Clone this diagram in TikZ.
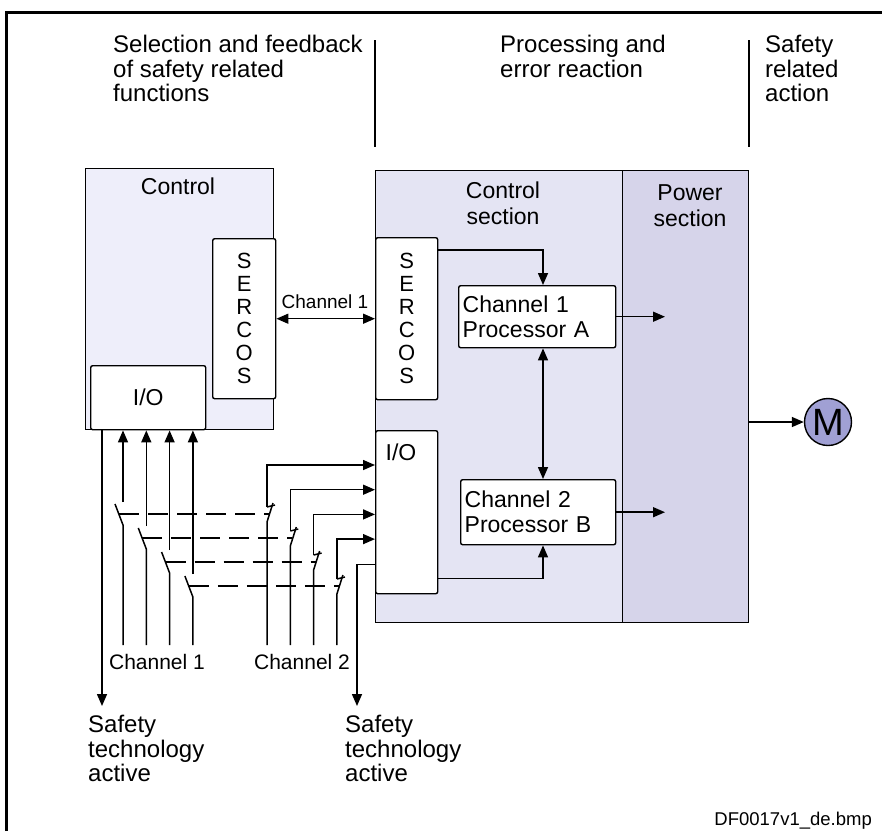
\documentclass[tikz,border=0pt]{standalone}
\usepackage{fontspec}
\setmainfont{Liberation Sans}
\usetikzlibrary{arrows.meta,positioning,calc}
\definecolor{ctrlfill}{RGB}{238,238,250}
\definecolor{csecfill}{RGB}{228,228,243}
\definecolor{psecfill}{RGB}{214,212,234}
\definecolor{motorfill}{RGB}{160,160,212}

\begin{document}
\begin{tikzpicture}[x=1pt, y=-1pt,
    box/.style = {rectangle, draw, line width=1.4pt, inner sep=0pt, anchor=north west},
    wbox/.style = {box, fill=white, rounded corners=2pt},
    arr/.style = {line width=1.5pt, -{Triangle[length=12pt,width=10pt]}},
    dbl/.style = {line width=1.5pt, {Triangle[length=12pt,width=10pt]}-{Triangle[length=12pt,width=10pt]}},
    wire/.style = {line width=1.5pt},
    link/.style = {line width=1.5pt, dash pattern=on 20pt off 9pt},
    hdr/.style = {font=\fontsize{24}{24.5}\selectfont, align=left, anchor=north west, inner sep=0pt},
    lbl/.style = {font=\fontsize{23}{26}\selectfont, inner sep=0pt, align=center},
    small/.style = {font=\fontsize{19}{20}\selectfont, inner sep=0pt}
  ]
  \useasboundingbox (0,0) rectangle (882,831);
  \draw[line width=3pt] (6,831) -- (6,12) -- (882,12);

  % headings
  \node (hsel) [hdr] at (113,35) {Selection and feedback\\of safety related\\functions};
  \node (hproc) [hdr] at (500,35) {Processing and\\error reaction};
  \node (hact) [hdr] at (765,35) {Safety\\related\\action};
  \draw[wire] (375,40) -- (375,147);
  \draw[wire] (749,40) -- (749,147);

  % drive
  \node (csec) [box, fill=csecfill, minimum width=247pt, minimum height=452pt] at (375,170) {};
  \node (psec) [box, fill=psecfill, minimum width=126pt, minimum height=452pt] at (622,170) {};
  \node (csecT) [lbl] at (503,203) {Control\\section};
  \node (psecT) [lbl] at (690,206) {Power\\section};
  \node (serR) [wbox, minimum width=62pt, minimum height=162pt, align=center,
        font=\fontsize{22}{23}\selectfont] at (375,237) {S\\E\\R\\C\\O\\S};
  \node (ioR) [wbox, minimum width=62pt, minimum height=163pt] at (375,430) {};
  \node (ioRT) [lbl] at (401,452) {I/O};
  \node (procA) [wbox, minimum width=157pt, minimum height=62pt, text width=149pt, inner sep=4pt,
        align=left, font=\fontsize{23}{25}\selectfont] at (458,285) {Channel 1\\Processor A};
  \node (procB) [wbox, minimum width=155pt, minimum height=65pt, text width=147pt, inner sep=4pt,
        align=left, font=\fontsize{23}{25}\selectfont] at (460,479) {Channel 2\\Processor B};
  \node (motor) [circle, draw, line width=1.4pt, fill=motorfill, minimum size=47pt, inner sep=0pt,
        font=\fontsize{38}{38}\selectfont] at (828,422) {M};

  % control
  \node (ctrl) [box, fill=ctrlfill, minimum width=188pt, minimum height=261pt] at (85,168) {};
  \node (ctrlT) [lbl] at (178,186) {Control};
  \node (serL) [wbox, minimum width=63pt, minimum height=160pt, align=center,
        font=\fontsize{22}{23}\selectfont] at (212,238) {S\\E\\R\\C\\O\\S};
  \node (ioL) [wbox, minimum width=115pt, minimum height=64pt, font=\fontsize{23}{25}\selectfont] at (90,365) {I/O};

  % connections
  \coordinate (busx) at (543,0);
  \coordinate (tipx) at (665,0);
  \draw[dbl] (serL.east) -- (serR.west);
  \node (ch1mid) [small] at (325,302) {Channel 1};
  \draw[arr] ($(serR.north east)+(0,13)$) -| (procA.north -| busx);
  \draw[dbl] (procA.south -| busx) -- (procB.north -| busx);
  \draw[arr] (procA.east) -- (procA.east -| tipx);
  \draw[arr] (procB.east) -- (procB.east -| tipx);
  \draw[arr] ($(ioR.south east)+(0,-16)$) -| (procB.south -| busx);
  \draw[arr] (psec.east |- motor) -- (motor);

  % safety switches
  \foreach \i in {0,...,3} {
    \pgfmathsetmacro\xa{123+23.3*\i}
    \pgfmathsetmacro\xb{267+23.3*\i}
    \pgfmathsetmacro\yd{514+24*\i}
    \pgfmathsetmacro\yc{465+24.7*\i}
    \coordinate (ca\i) at (\xa,\yd-12);
    \coordinate (cb\i) at (\xb,\yd-7);
    \coordinate (cc\i) at (0,\yc);
    \draw[arr] (ca\i) -- (ioL.south -| ca\i);
    \draw[wire] (\xa-8,\yd-10) -- (\xa,\yd+11) -- (\xa,645);
    \draw[arr] (cb\i) |- (ioR.west |- cc\i);
    \draw[wire] (cb\i) -- (\xb+8,\yd-9);
    \draw[wire] (\xb+6,\yd-11) -- (\xb,\yd+8) -- (\xb,645);
    \draw[link] (\xa-4,\yd) -- (\xb+2,\yd);
  }
  \node (lch1) [lbl, font=\fontsize{21}{25}\selectfont] at (157,662) {Channel 1};
  \node (lch2) [lbl, font=\fontsize{21}{25}\selectfont] at (302,662) {Channel 2};

  % safety technology outputs
  \coordinate (sta1) at (102,706);
  \coordinate (sta2) at (357,706);
  \draw[arr] (ioL.south -| sta1) -- (sta1);
  \draw[arr] ($(ioR.south west)+(0,-30)$) -| (sta2);
  \node (act1) [hdr] at (88,715) {Safety\\technology\\active};
  \node (act2) [hdr] at (345,715) {Safety\\technology\\active};

  \node (fname) [font=\fontsize{18.5}{20}\selectfont, anchor=base east, inner sep=0pt] at (872,825) {DF0017v1\_de.bmp};
\end{tikzpicture}
\end{document}
